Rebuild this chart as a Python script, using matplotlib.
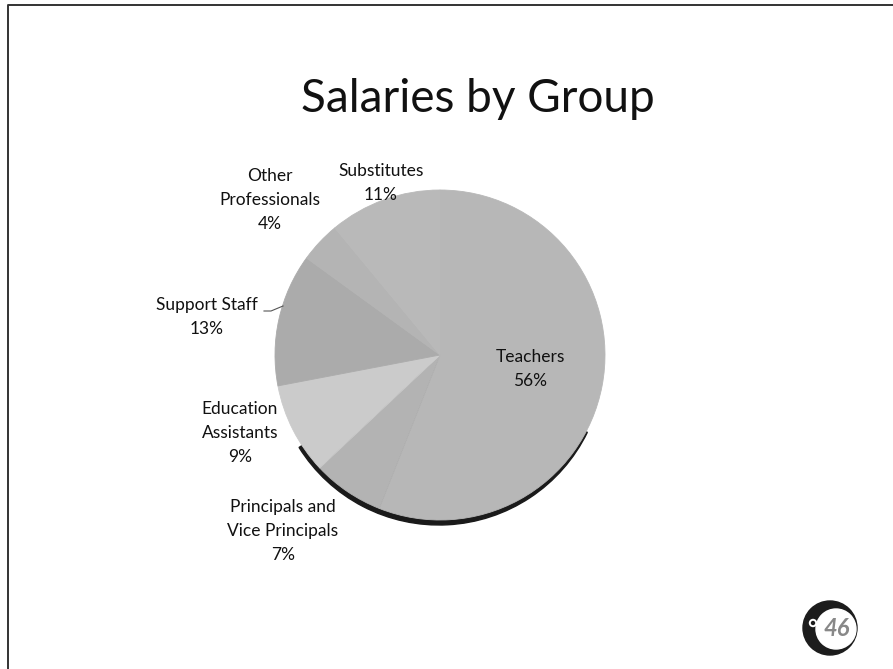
import matplotlib.pyplot as plt
from matplotlib.patches import Circle, Wedge

# salary share per staff group, clockwise from 12 o'clock
groups = ["Teachers", "Principals and\nVice Principals", "Education\nAssistants",
          "Support Staff", "Other\nProfessionals", "Substitutes"]
shares = [56, 7, 9, 13, 4, 11]

slice_colors = ["#b7b7b7", "#b3b3b3", "#cbcbcb", "#ababab", "#b4b4b4", "#b9b9b9"]

W, H = 893, 669
cx, cy, r = 440, H - 355, 165

# label anchor points (pixels from the top-left)
label_xy = [(530, 369), (283, 531), (240, 433), (207, 317), (270, 200), (381, 183)]

plt.rcParams['font.family'] = ['Lato', 'DejaVu Sans']

fig = plt.figure(figsize=(W / 100, H / 100), dpi=100)
ax = fig.add_axes([0, 0, 1, 1])

# slide frame
ax.plot([8, 8, W], [0, H - 5, H - 5], color="#333333", lw=1.4)

ax.text(478, H - 99, "Salaries by Group", ha='center', va='center', fontsize=33, color="#111111")

# dark rim under the bottom of the pie
ax.add_patch(Wedge((cx - 1, cy - 5), r, 212, 334, color="#1a1a1a", zorder=1))

wedges, _ = ax.pie(shares, colors=slice_colors, startangle=90, counterclock=False,
                   center=(cx, cy), radius=r, frame=True,
                   wedgeprops=dict(linewidth=0.6, zorder=2))
# hide the seams between slices
for w, c in zip(wedges, slice_colors):
    w.set_edgecolor(c)

ax.set_xlim(0, W)
ax.set_ylim(0, H)
ax.set_aspect('equal')
ax.axis('off')

for name, val, (lx, ly) in zip(groups, shares, label_xy):
    ax.text(lx, H - ly, f"{name}\n{val}%", ha='center', va='center', fontsize=12.5,
            linespacing=1.6, color="#111111", zorder=5)

# leader line for Support Staff
ax.plot([264, 271, 283], [H - 311, H - 311, H - 306], color="#555555", lw=0.8, zorder=5)

# district logo
lx, ly = 830, H - 628
ax.add_patch(Circle((lx, ly), 27, color="#1c1c1c", zorder=6))
ax.add_patch(Circle((lx + 6, ly - 1), 20, color="white", zorder=7))
ax.add_patch(Circle((lx - 17, ly + 5), 3.5, color="white", zorder=7))
ax.add_patch(Circle((lx - 17, ly + 5), 1.5, color="#1c1c1c", zorder=8))
ax.text(lx + 7, ly - 1, "46", ha='center', va='center', fontsize=17, fontweight='bold',
        fontstyle='italic', color="#888888", zorder=8)

fig.savefig("out.png", dpi=100)
